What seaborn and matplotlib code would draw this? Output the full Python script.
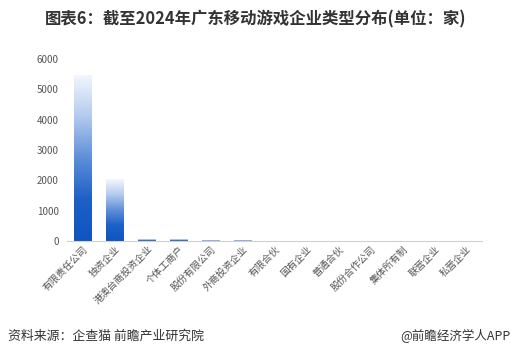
import matplotlib
matplotlib.use('Agg')
import matplotlib.pyplot as plt
import seaborn as sb
import numpy as np
import pandas as pd
from matplotlib.colors import LinearSegmentedColormap

categories = ['有限责任公司', '独资企业', '港澳台商投资企业', '个体工商户', '股份有限公司',
              '外商投资企业', '有限合伙', '国有企业', '普通合伙', '股份合作公司',
              '集体所有制', '联营企业', '私营企业']
counts = [5480, 2030, 62, 55, 32, 30, 6, 4, 3, 2, 1, 1, 1]

sb.set_style('white')
plt.rcParams['font.family'] = ['Noto Sans CJK SC', 'DejaVu Sans']

df = pd.DataFrame({'类型': categories, '数量': counts})

fig = plt.figure(figsize=(5.12, 3.56), dpi=100)
ax = fig.add_axes([0.131, 0.323, 0.811, 0.511])

sb.barplot(data=df, x='类型', y='数量', ax=ax, width=0.56, color='#1a5fc4')

# gradient fill: dark blue at bottom fading to white at top
cmap = LinearSegmentedColormap.from_list('g', ['#0f55c0', '#1d60c6', '#5f8fd8', '#b3cbee', '#f4f7fd'])
grad = np.linspace(0, 1, 256).reshape(-1, 1)
for p in ax.patches:
    x0, y0 = p.get_x(), p.get_y()
    w, h = p.get_width(), p.get_height()
    if h <= 0:
        continue
    im = ax.imshow(grad, cmap=cmap, aspect='auto', origin='lower',
                   extent=[x0, x0 + w, y0, y0 + h], zorder=2)
    im.set_clip_path(p)
    p.set_facecolor('none')
    p.set_edgecolor('none')

ax.set_xlim(-0.5, len(categories) - 0.5)
ax.set_ylim(0, 6000)
ax.set_yticks(range(0, 6001, 1000))
ax.set_xlabel('')
ax.set_ylabel('')
for s in ['top', 'right', 'left']:
    ax.spines[s].set_visible(False)
ax.spines['bottom'].set_color('#d0d0d0')
ax.spines['bottom'].set_linewidth(0.8)
ax.tick_params(axis='y', labelsize=7, colors='#555555', length=0, pad=6)
ax.tick_params(axis='x', labelsize=7, colors='#555555', length=0, pad=2)
plt.setp(ax.get_xticklabels(), rotation=45, ha='right', rotation_mode='anchor')

fig.text(0.5, 0.945, '图表6：截至2024年广东移动游戏企业类型分布(单位：家)',
         ha='center', va='center', fontsize=11.8, fontweight='bold', color='#333333')
fig.text(0.015, 0.055, '资料来源：企查猫 前瞻产业研究院', ha='left', va='center',
         fontsize=9.3, color='#333333')
fig.text(0.997, 0.055, '@前瞻经济学人APP', ha='right', va='center',
         fontsize=9.0, color='#333333')

fig.savefig('out.png', dpi=100)
